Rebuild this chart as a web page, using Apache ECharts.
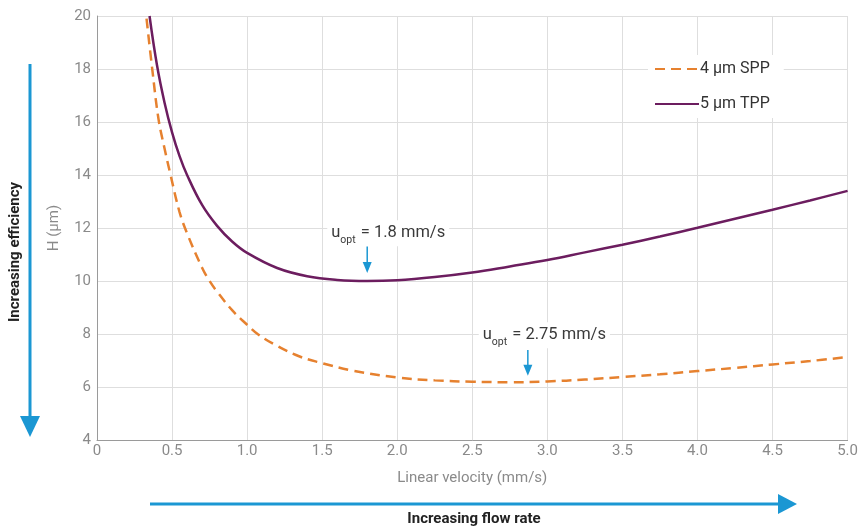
<!DOCTYPE html>
<html><head><meta charset="utf-8">
<script src="https://cdn.jsdelivr.net/npm/echarts@6/dist/echarts.min.js"></script>
<style>html,body{margin:0;padding:0;background:#fff}#c{width:861px;height:529px}</style>
</head><body><div id="c"></div>
<script>
// ---- data ----
const sppName = '4 μm SPP';
const tppName = '5 μm TPP';
const sppU = [0.33,0.37,0.41,0.45,0.49,0.55,0.6,0.7,0.75,0.8,0.9,1.0,1.07,1.2,1.35,1.5,1.7,2.0,2.25,2.5,2.75,3.0,3.25,3.5,3.75,4.0,4.25,4.5,4.75,5.0];
const sppH = [19.9,17.9,16.1,15.0,14.0,12.6,11.8,10.5,10.0,9.6,8.9,8.35,8.0,7.55,7.15,6.9,6.62,6.36,6.25,6.2,6.18,6.21,6.28,6.38,6.48,6.6,6.72,6.85,6.98,7.13];
const tppU = [0.35,0.4,0.45,0.5,0.55,0.6,0.7,0.8,0.9,1.0,1.2,1.4,1.6,1.8,2.0,2.25,2.5,2.75,3.0,3.25,3.5,3.75,4.0,4.25,4.5,4.75,5.0];
const tppH = [20.0,18.13,16.73,15.61,14.71,14.0,12.87,12.08,11.49,11.06,10.49,10.18,10.04,10.0,10.03,10.15,10.32,10.55,10.79,11.08,11.37,11.68,12.01,12.35,12.69,13.04,13.4];
const xTicks = [0,0.5,1.0,1.5,2.0,2.5,3.0,3.5,4.0,4.5,5.0];
const yTicks = [4,6,8,10,12,14,16,18,20];
const optLabels = ['1.8 mm/s','2.75 mm/s'];
const optU = [1.8, 2.87];

// ---- layout / style config ----
const annotLayout = [
  {tx:1.94, th:11.8, from:11.3, to:10.3},
  {tx:2.98, th:7.95, from:7.4, to:6.42}
];
const BLUE = '#1b97d3';
const ORANGE = '#e6812f';
const PURPLE = '#6c1d5f';
const FONT = 'Roboto';

const chart = echarts.init(document.getElementById('c'), null, {renderer:'canvas'});
const option = {
  animation:false,
  textStyle:{fontFamily:FONT},
  grid:{left:97,right:13,top:16,bottom:89,containLabel:false},
  legend:{
    orient:'vertical', left:648, top:55, padding:[6,14,6,6],
    backgroundColor:'#fff', itemWidth:44, itemHeight:16, itemGap:19,
    itemStyle:{opacity:0},
    textStyle:{fontSize:16,color:'#333',fontFamily:FONT,padding:[0,0,0,-4]},
    data:[sppName,tppName]
  },
  xAxis:{
    type:'value', min:xTicks[0], max:xTicks[xTicks.length-1], interval:0.5,
    name:'Linear velocity (mm/s)', nameLocation:'middle', nameGap:31,
    nameTextStyle:{color:'#8a8a8a',fontSize:15},
    axisLine:{show:true,lineStyle:{color:'#9a9a9a'}},
    axisTick:{show:false},
    axisLabel:{color:'#8a8a8a',fontSize:15,margin:4,formatter:v=>v===0?'0':v.toFixed(1)},
    splitLine:{show:true,lineStyle:{color:'#dedede'}}
  },
  yAxis:{
    type:'value', min:yTicks[0], max:yTicks[yTicks.length-1], interval:2,
    name:'H (μm)', nameLocation:'middle', nameGap:35,
    nameTextStyle:{color:'#8a8a8a',fontSize:15},
    axisLine:{show:true,lineStyle:{color:'#9a9a9a'}},
    axisTick:{show:false},
    axisLabel:{color:'#8a8a8a',fontSize:15,margin:6},
    splitLine:{show:true,lineStyle:{color:'#dedede'}}
  },
  series:[
    {name:sppName,type:'line',symbol:'none',smooth:0.4,
     data:sppU.map((u,i)=>[u,sppH[i]]),
     lineStyle:{color:ORANGE,width:2.5,type:[10,6]},itemStyle:{color:ORANGE}},
    {name:tppName,type:'line',symbol:'none',smooth:0.4,
     data:tppU.map((u,i)=>[u,tppH[i]]),
     lineStyle:{color:PURPLE,width:2.5},itemStyle:{color:PURPLE}}
  ]
};
chart.setOption(option);

const px = (u,h)=>chart.convertToPixel({gridIndex:0},[u,h]);
const g = [];
function arrowV(x,y1,y2,w,hw,hl){
  g.push({type:'line',shape:{x1:x,y1:y1,x2:x,y2:y2-hl+1},style:{stroke:BLUE,lineWidth:w},z:100});
  g.push({type:'polygon',shape:{points:[[x-hw,y2-hl],[x+hw,y2-hl],[x,y2]]},style:{fill:BLUE},z:100});
}
optLabels.forEach((lab,i)=>{
  const L = annotLayout[i];
  const t = px(L.tx,L.th);
  g.push({type:'text',x:t[0],y:t[1],z:100,style:{
    text:'{u|u}{s|opt}{u| = '+lab+'}',
    align:'center',verticalAlign:'middle',
    backgroundColor:'#fff',padding:[2,4,2,4],
    rich:{u:{fontSize:16.5,fill:'#3a3a3a',fontFamily:FONT,lineHeight:22},
          s:{fontSize:10.5,fill:'#3a3a3a',fontFamily:FONT,lineHeight:22,padding:[14,1,0,0]}}
  }});
  const a = px(optU[i],L.from), b = px(optU[i],L.to);
  arrowV(a[0],a[1],b[1],1.5,4.5,11);
});
// big direction arrows
g.push({type:'line',shape:{x1:150,y1:504,x2:782,y2:504},style:{stroke:BLUE,lineWidth:3}});
g.push({type:'polygon',shape:{points:[[778,494],[797,504],[778,514]]},style:{fill:BLUE}});
g.push({type:'text',x:474,y:519,style:{text:'Increasing flow rate',align:'center',verticalAlign:'middle',fontSize:15,fontWeight:'bold',fill:'#222',fontFamily:FONT}});
g.push({type:'line',shape:{x1:30,y1:64,x2:30,y2:420},style:{stroke:BLUE,lineWidth:3}});
g.push({type:'polygon',shape:{points:[[20,416],[40,416],[30,437]]},style:{fill:BLUE}});
g.push({type:'text',x:15,y:252,rotation:Math.PI/2,style:{text:'Increasing efficiency',align:'center',verticalAlign:'middle',fontSize:15,fontWeight:'bold',fill:'#222',fontFamily:FONT}});
chart.setOption({graphic:g});
</script></body></html>
